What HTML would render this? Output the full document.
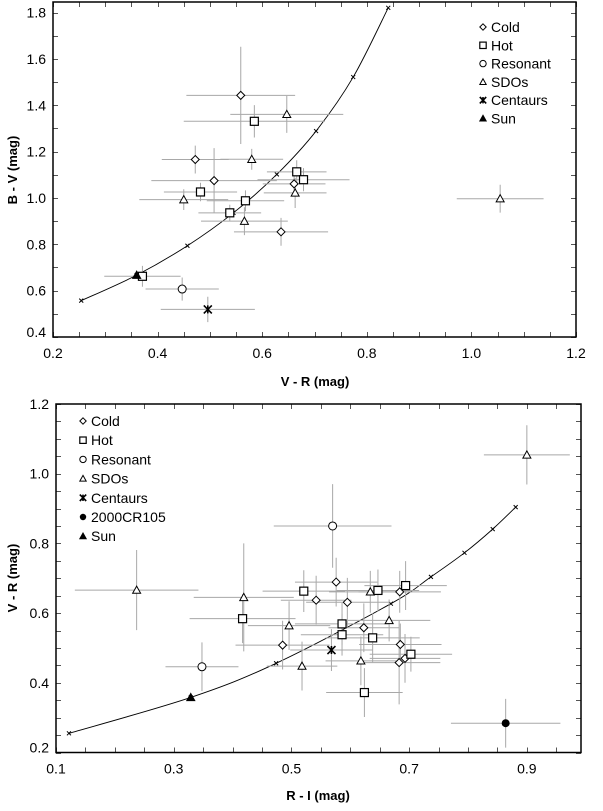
<!DOCTYPE html>
<html><head><meta charset="utf-8">
<style>
html,body{margin:0;padding:0;background:#fff;}
svg{display:block;font-family:"Liberation Sans",Arial,sans-serif;}
</style></head>
<body>
<svg id="chart" width="603" height="811" viewBox="0 0 603 811" xmlns="http://www.w3.org/2000/svg"></svg>
<script>
// ===== Top chart data (V-R vs B-V) =====
const topColdX=[0.559,0.472,0.508,0.661,0.636];
const topColdY=[1.443,1.166,1.075,1.061,0.854];
const topColdEX=[0.104,0.064,0.12,0.06,0.09];
const topColdEY=[0.21,0.06,0.14,0.05,0.06];
const topHotX=[0.585,0.666,0.679,0.482,0.568,0.538,0.371];
const topHotY=[1.331,1.113,1.079,1.026,0.988,0.936,0.662];
const topHotEX=[0.135,0.057,0.088,0.07,0.074,0.06,0.073];
const topHotEY=[0.07,0.05,0.05,0.04,0.045,0.035,0.045];
const topResX=[0.447];
const topResY=[0.607];
const topResEX=[0.07];
const topResEY=[0.05];
const topSdoX=[0.647,0.580,0.450,0.663,0.566,1.055];
const topSdoY=[1.361,1.167,0.993,1.022,0.900,0.997];
const topSdoEX=[0.108,0.06,0.085,0.06,0.083,0.083];
const topSdoEY=[0.08,0.045,0.045,0.065,0.06,0.06];
const topCenX=[0.496];
const topCenY=[0.519];
const topCenEX=[0.09];
const topCenEY=[0.055];
const topSunX=[0.360];
const topSunY=[0.667];
const topCurveX=[0.254,0.360,0.457,0.545,0.628,0.703,0.774,0.841];
const topCurveY=[0.557,0.667,0.794,0.936,1.102,1.289,1.522,1.821];
const topXTicks=["0.2","0.4","0.6","0.8","1.0","1.2"];
const topYTicks=["0.4","0.6","0.8","1.0","1.2","1.4","1.6","1.8"];

// ===== Bottom chart data (R-I vs V-R) =====
const botColdX=[0.576,0.542,0.595,0.684,0.623,0.485,0.685,0.683,0.693];
const botColdY=[0.689,0.637,0.631,0.661,0.558,0.508,0.510,0.458,0.470];
const botColdEX=[0.07,0.06,0.07,0.07,0.06,0.08,0.07,0.07,0.06];
const botColdEY=[0.07,0.07,0.07,0.06,0.07,0.07,0.06,0.12,0.07];
const botHotX=[0.521,0.647,0.694,0.417,0.586,0.586,0.638,0.703,0.624];
const botHotY=[0.663,0.665,0.679,0.584,0.569,0.538,0.529,0.482,0.372];
const botHotEX=[0.07,0.07,0.07,0.09,0.08,0.07,0.08,0.07,0.065];
const botHotEY=[0.06,0.06,0.07,0.07,0.06,0.06,0.07,0.05,0.07];
const botResX=[0.570,0.348];
const botResY=[0.850,0.446];
const botResEX=[0.10,0.062];
const botResEY=[0.12,0.07];
const botSdoX=[0.900,0.237,0.419,0.634,0.496,0.666,0.518,0.618];
const botSdoY=[1.054,0.666,0.645,0.661,0.564,0.579,0.448,0.463];
const botSdoEX=[0.073,0.105,0.085,0.07,0.07,0.07,0.06,0.06];
const botSdoEY=[0.085,0.115,0.155,0.06,0.07,0.06,0.07,0.07];
const botCenX=[0.568];
const botCenY=[0.494];
const botCenEX=[0.07];
const botCenEY=[0.06];
const botCrX=[0.864];
const botCrY=[0.284];
const botCrEX=[0.093];
const botCrEY=[0.07];
const botSunX=[0.329];
const botSunY=[0.358];
const botCurveX=[0.122,0.329,0.474,0.669,0.737,0.794,0.842,0.881];
const botCurveY=[0.255,0.358,0.456,0.627,0.704,0.773,0.841,0.904];
const botXTicks=["0.1","0.3","0.5","0.7","0.9"];
const botYTicks=["0.2","0.4","0.6","0.8","1.0","1.2"];

const NS="http://www.w3.org/2000/svg";
const svg=document.getElementById('chart');
function mk(tag,attrs,parent){const e=document.createElementNS(NS,tag);for(const k in attrs)e.setAttribute(k,attrs[k]);(parent||svg).appendChild(e);return e;}

function drawChart(cfg){
  const g=mk('g',{});
  
  
  const sx=v=>cfg.L+(v-cfg.x0)/(cfg.x1-cfg.x0)*(cfg.R-cfg.L);
  const sy=v=>cfg.B-(v-cfg.y0)/(cfg.y1-cfg.y0)*(cfg.B-cfg.T);
  const tg=mk('g',{stroke:'#555','stroke-width':1},g);
  
  
  for(let v=cfg.x0;v<=cfg.x1+1e-9;v+=cfg.xMinor){const x=Math.round(sx(v))+0.5;
    mk('line',{x1:x,x2:x,y1:cfg.B,y2:cfg.B-5},tg);mk('line',{x1:x,x2:x,y1:cfg.T,y2:cfg.T+5},tg);}
  for(let v=cfg.y0;v<=cfg.y1+1e-9;v+=cfg.yMinor){const y=Math.round(sy(v))+0.5;
    mk('line',{x1:cfg.L,x2:cfg.L+5,y1:y,y2:y},tg);mk('line',{x1:cfg.R,x2:cfg.R-5,y1:y,y2:y},tg);}
  cfg.xTicks.forEach(t=>{const e=mk('text',{x:sx(+t),y:cfg.B+21,'text-anchor':'middle','font-size':14,fill:'#000'},g);e.textContent=t;
    
    });
  cfg.yTicks.forEach(t=>{let y=sy(+t)+5;if(y>cfg.B)y=cfg.B;const e=mk('text',{x:cfg.L-7,y:y,'text-anchor':'end','font-size':14,fill:'#000'},g);e.textContent=t;
    
    });
  const xt=mk('text',{x:cfg.xTitleX,y:cfg.xTitleY,'text-anchor':'middle','font-size':13,'font-weight':'bold'},g);xt.textContent=cfg.xTitle;
  
  
  const yt=mk('text',{x:0,y:0,'text-anchor':'middle','font-size':13,'font-weight':'bold',transform:`translate(17,${cfg.yTitleY}) rotate(-90)`},g);yt.textContent=cfg.yTitle;
  
  
  const P=cfg.curveX.map((v,i)=>[sx(v),sy(cfg.curveY[i])]);
  let d=`M${P[0][0]},${P[0][1]}`;
  for(let i=0;i<P.length-1;i++){const p0=P[Math.max(0,i-1)],p1=P[i],p2=P[i+1],p3=P[Math.min(P.length-1,i+2)];
    d+=` C${p1[0]+(p2[0]-p0[0])/6},${p1[1]+(p2[1]-p0[1])/6} ${p2[0]-(p3[0]-p1[0])/6},${p2[1]-(p3[1]-p1[1])/6} ${p2[0]},${p2[1]}`;}
  const cp=mk('path',{d:d,fill:'none',stroke:'#000','stroke-width':0.9},g);
  
  
  P.forEach(p=>{const m=mk('path',{d:`M${p[0]-2},${p[1]-2}L${p[0]+2},${p[1]+2}M${p[0]-2},${p[1]+2}L${p[0]+2},${p[1]-2}`,stroke:'#000','stroke-width':1},g);
    
    });
  cfg.series.forEach(s=>{
    s.x.forEach((v,i)=>{
      const x=sx(v),y=sy(s.y[i]);
      if(s.ex){const eb=mk('path',{d:`M${sx(v-s.ex[i])},${y}H${sx(v+s.ex[i])}M${x},${sy(s.y[i]-s.ey[i])}V${sy(s.y[i]+s.ey[i])}`,stroke:'#a8a8a8','stroke-width':1,fill:'none'},g);
        
        }
    });
  });
  cfg.series.forEach(s=>{
    s.x.forEach((v,i)=>{
      const m=symbol(g,s.sym,sx(v),sy(s.y[i]),4);
      
      
    });
  });
  const fr=mk('rect',{x:cfg.L,y:cfg.T,width:cfg.R-cfg.L,height:cfg.B-cfg.T,fill:'none',stroke:'#000','stroke-width':1.5},g);
  
  
  const lg=mk('g',{},g);
  
  
  cfg.legend.forEach((it,i)=>{
    const y=cfg.legY+i*cfg.legDy;
    const sg=mk('g',{},lg);
    
    
    symbol(sg,it[0],cfg.legX,y,3.2);
    const t=mk('text',{x:cfg.legX+8,y:y+5,'font-size':14},sg);t.textContent=it[1];
  });
}
function symbol(parent,type,x,y,r){
  if(type==='diamond')return mk('path',{d:`M${x},${y-r}L${x+r},${y}L${x},${y+r}L${x-r},${y}Z`,fill:'#fff',stroke:'#000','stroke-width':1},parent);
  if(type==='square')return mk('rect',{x:x-r,y:y-r,width:2*r,height:2*r,fill:'#fff',stroke:'#000','stroke-width':1.2},parent);
  if(type==='circle')return mk('circle',{cx:x,cy:y,r:r,fill:'#fff',stroke:'#000','stroke-width':1},parent);
  if(type==='triangle')return mk('path',{d:`M${x},${y-r}L${x+r},${y+r*0.8}L${x-r},${y+r*0.8}Z`,fill:'#fff',stroke:'#000','stroke-width':1},parent);
  if(type==='ftriangle')return mk('path',{d:`M${x},${y-r}L${x+r},${y+r*0.8}L${x-r},${y+r*0.8}Z`,fill:'#000',stroke:'#000','stroke-width':1},parent);
  if(type==='fcircle')return mk('circle',{cx:x,cy:y,r:r,fill:'#000'},parent);
  if(type==='star')return mk('path',{d:`M${x-r},${y-r}L${x+r},${y+r}M${x-r},${y+r}L${x+r},${y-r}M${x},${y-r}V${y+r}`,stroke:'#000','stroke-width':1.6,fill:'none'},parent);
}

drawChart({name:'top-chart',L:53,R:576,T:2,B:337,x0:0.2,x1:1.2,y0:0.4,y1:1.846,xMinor:0.05,yMinor:0.1,
  xTicks:topXTicks,yTicks:topYTicks,xTitle:'V - R (mag)',xTitleX:315,xTitleY:386,yTitle:'B - V (mag)',yTitleY:170,
  curveX:topCurveX,curveY:topCurveY,legX:483,legY:27,legDy:18.3,
  legend:[['diamond','Cold'],['square','Hot'],['circle','Resonant'],['triangle','SDOs'],['star','Centaurs'],['ftriangle','Sun']],
  series:[
    {name:'cold',sym:'diamond',x:topColdX,y:topColdY,ex:topColdEX,ey:topColdEY},
    {name:'hot',sym:'square',x:topHotX,y:topHotY,ex:topHotEX,ey:topHotEY},
    {name:'resonant',sym:'circle',x:topResX,y:topResY,ex:topResEX,ey:topResEY},
    {name:'sdo',sym:'triangle',x:topSdoX,y:topSdoY,ex:topSdoEX,ey:topSdoEY},
    {name:'centaur',sym:'star',x:topCenX,y:topCenY,ex:topCenEX,ey:topCenEY},
    {name:'sun',sym:'ftriangle',x:topSunX,y:topSunY}
  ]});
drawChart({name:'bottom-chart',L:56,R:581,T:404,B:752.5,x0:0.1,x1:0.992,y0:0.2,y1:1.2,xMinor:0.05,yMinor:0.05,
  xTicks:botXTicks,yTicks:botYTicks,xTitle:'R - I (mag)',xTitleX:318,xTitleY:800,yTitle:'V - R (mag)',yTitleY:578,
  curveX:botCurveX,curveY:botCurveY,legX:83,legY:421,legDy:19.2,
  legend:[['diamond','Cold'],['square','Hot'],['circle','Resonant'],['triangle','SDOs'],['star','Centaurs'],['fcircle','2000CR105'],['ftriangle','Sun']],
  series:[
    {name:'cold',sym:'diamond',x:botColdX,y:botColdY,ex:botColdEX,ey:botColdEY},
    {name:'hot',sym:'square',x:botHotX,y:botHotY,ex:botHotEX,ey:botHotEY},
    {name:'resonant',sym:'circle',x:botResX,y:botResY,ex:botResEX,ey:botResEY},
    {name:'sdo',sym:'triangle',x:botSdoX,y:botSdoY,ex:botSdoEX,ey:botSdoEY},
    {name:'centaur',sym:'star',x:botCenX,y:botCenY,ex:botCenEX,ey:botCenEY},
    {name:'cr105',sym:'fcircle',x:botCrX,y:botCrY,ex:botCrEX,ey:botCrEY},
    {name:'sun',sym:'ftriangle',x:botSunX,y:botSunY}
  ]});
</script>
</body></html>
